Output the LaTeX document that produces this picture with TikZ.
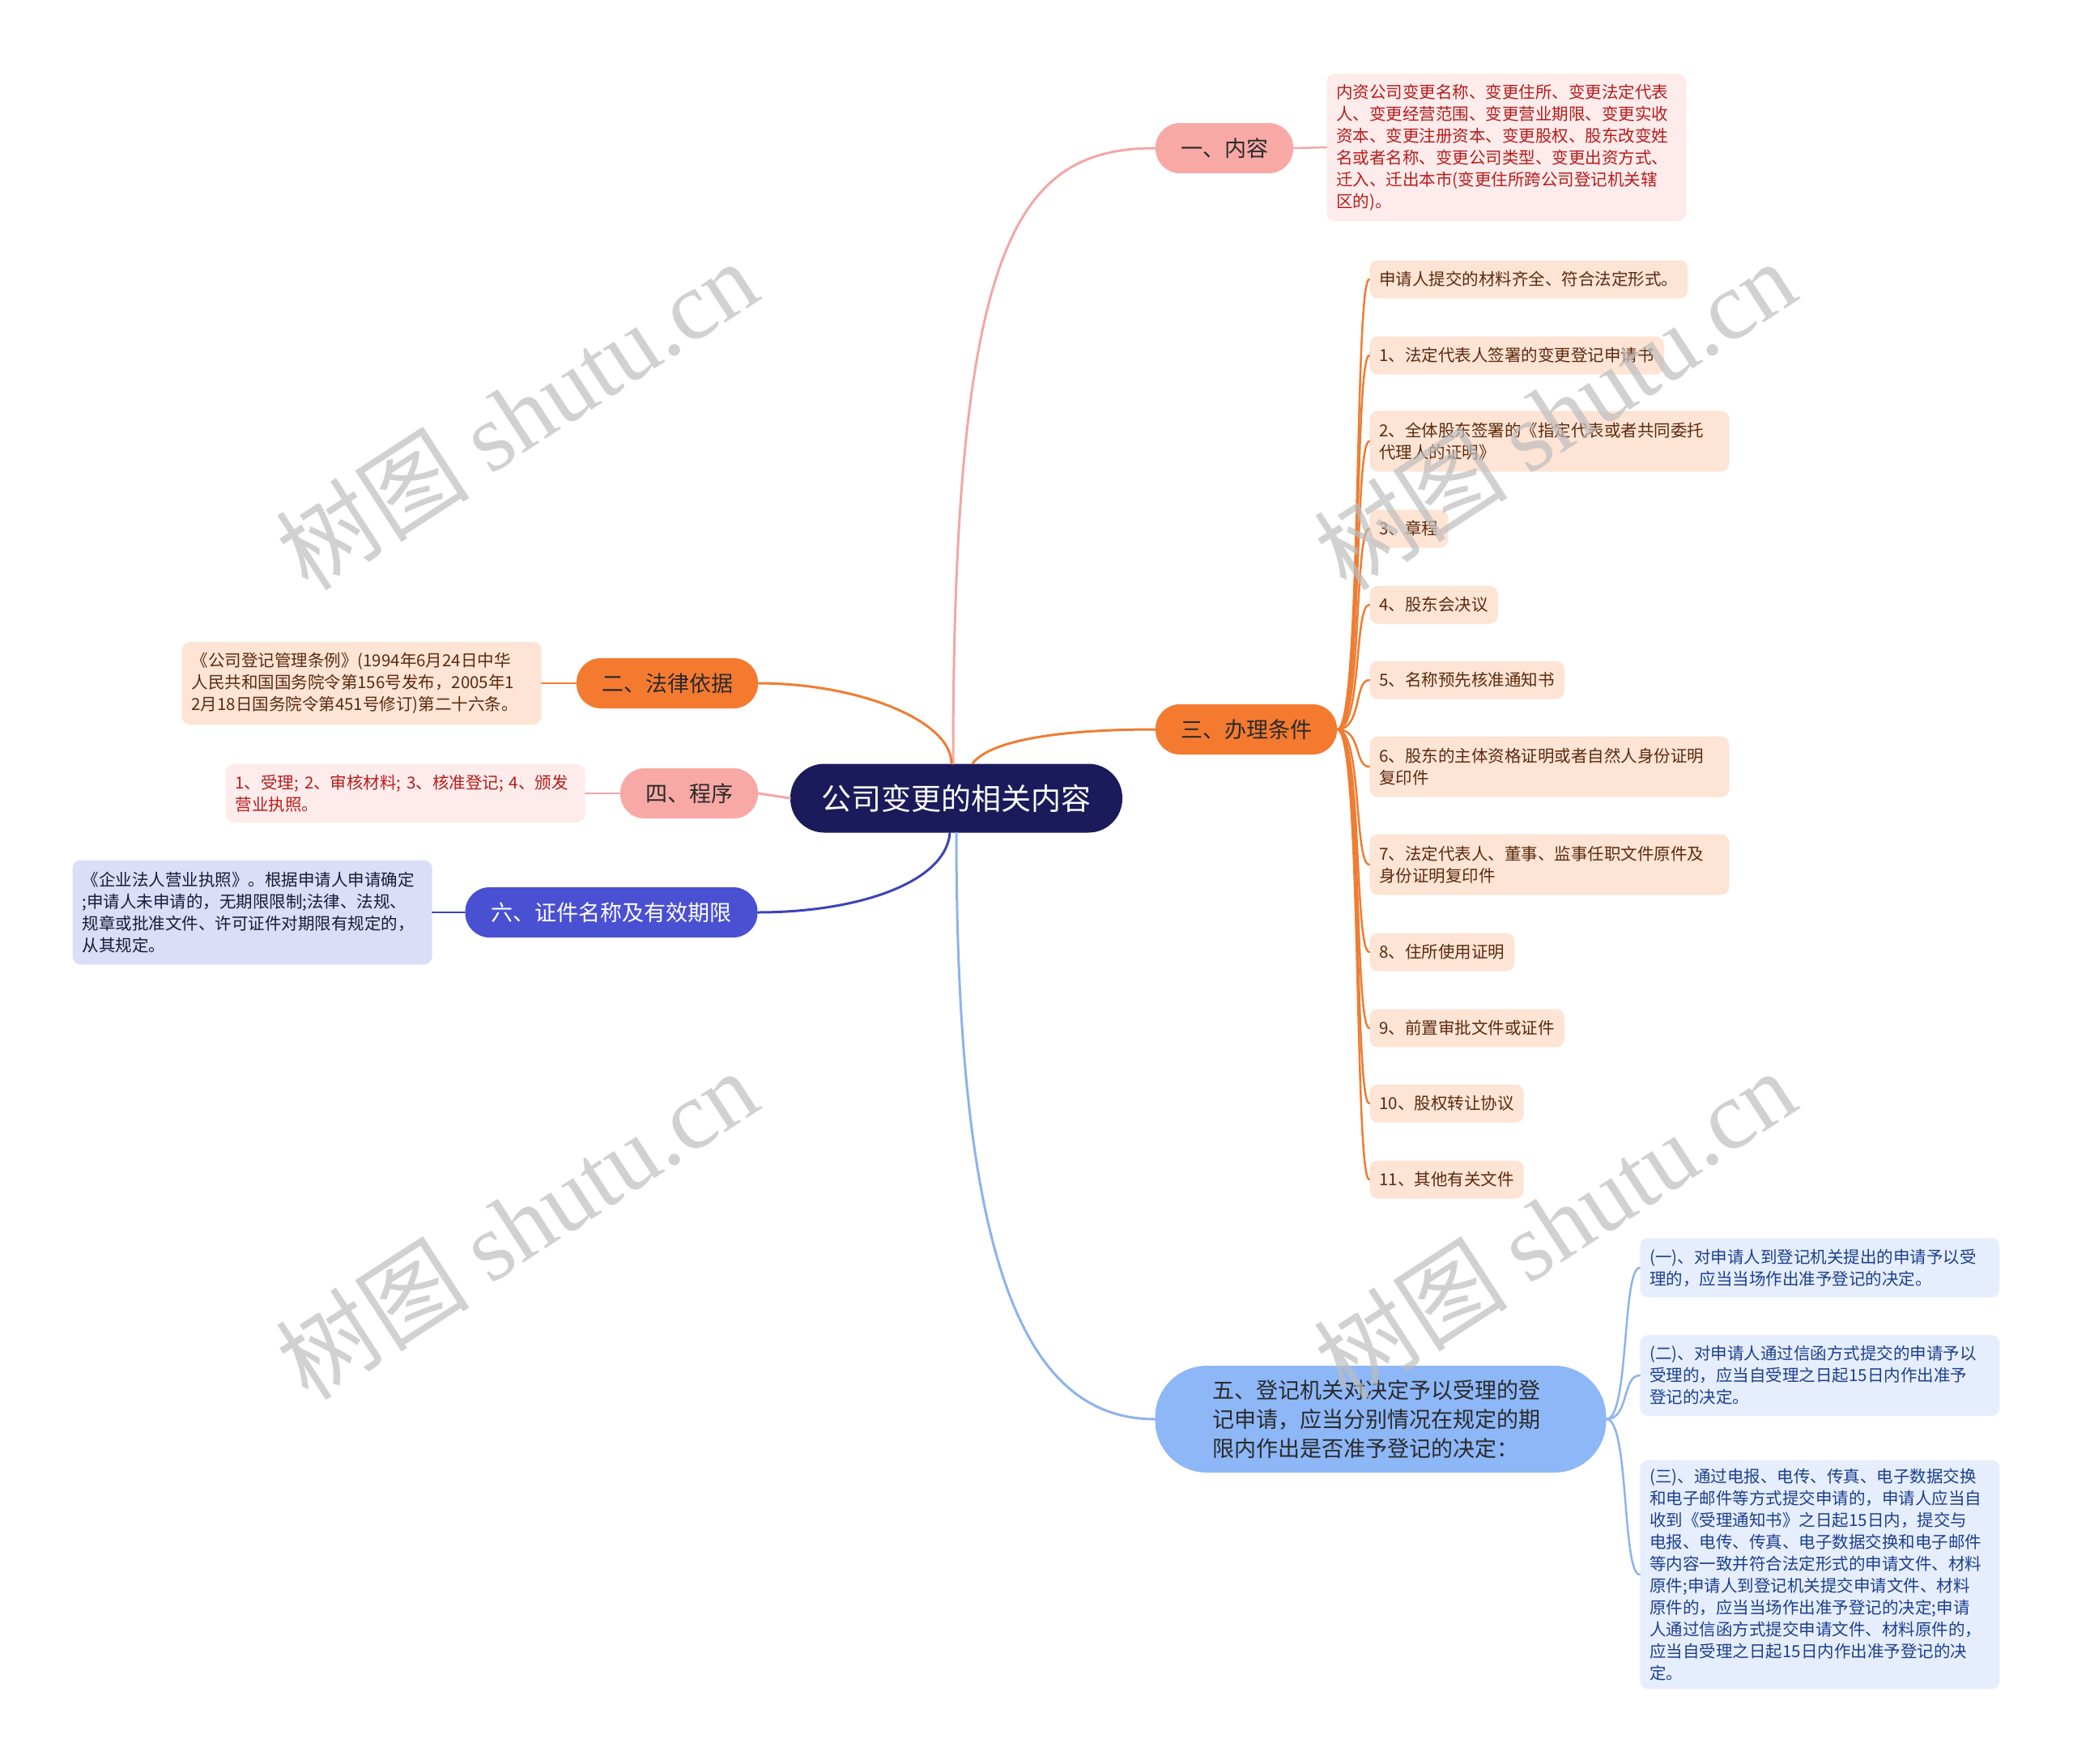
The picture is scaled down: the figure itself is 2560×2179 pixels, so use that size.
\documentclass[tikz,border=0pt]{standalone}
\usepackage{fontspec}
\setmainfont{Noto Sans CJK SC}
\newfontfamily\wmlatin{Liberation Serif}
\definecolor{rootc}{HTML}{1B1A5B}
\definecolor{pinkc}{HTML}{F8A9A6}
\definecolor{pinkln}{HTML}{F0A8A5}
\definecolor{pinkleafc}{HTML}{FDECEB}
\definecolor{pinktxt}{HTML}{B71C1C}
\definecolor{orc}{HTML}{F47A30}
\definecolor{orln}{HTML}{EE7D33}
\definecolor{orleafc}{HTML}{FDE4D5}
\definecolor{ortxt}{HTML}{5C2A0E}
\definecolor{bluec}{HTML}{4A50D2}
\definecolor{blueln}{HTML}{3C44B5}
\definecolor{lavleafc}{HTML}{DCDDF7}
\definecolor{lavtxt}{HTML}{1A1A3A}
\definecolor{lbc}{HTML}{8DB7F7}
\definecolor{lbln}{HTML}{8DB3EC}
\definecolor{lbleafc}{HTML}{E6EEFD}
\definecolor{lbtxt}{HTML}{1B3F8F}
\definecolor{darktxt}{HTML}{2A2A2A}
\definecolor{wmc}{HTML}{BDBDBD}
\begin{document}
\begin{tikzpicture}[x=0.5pt,y=-0.5pt,
  rootbox/.style={fill=rootc, text=white, rounded corners=21pt, minimum width=205pt, minimum height=42.5pt, inner sep=0pt, font=\fontsize{18.5pt}{22pt}\selectfont},
  brbox/.style={rounded corners=15pt, minimum height=31pt, inner sep=0pt, text=darktxt, font=\fontsize{13.5pt}{18pt}\selectfont},
  leafbox/.style={rounded corners=5pt, inner xsep=6pt, inner ysep=0pt, align=left, font=\fontsize{10.25pt}{13.5pt}\selectfont},
  widebox/.style={text width=210pt},
  oleaf/.style={leafbox, fill=orleafc, text=ortxt, anchor=west},
  conn/.style={line width=1.5pt, line cap=round},
  sconn/.style={line width=1.25pt, line cap=round},
  wm/.style={rotate=33, text=wmc, text opacity=0.7, font=\fontsize{60pt}{64pt}\selectfont}
]
\useasboundingbox (0,0) rectangle (2560,2179);

% root
\node[rootbox] (root) at (1181,986) {公司变更的相关内容};

% branches
\node[brbox, fill=pinkc, minimum width=85pt] (b1) at (1512,183) {一、内容};
\node[brbox, fill=orc, minimum width=112pt] (b2) at (824,844) {二、法律依据};
\node[brbox, fill=orc, minimum width=112pt] (b3) at (1539,901) {三、办理条件};
\node[brbox, fill=pinkc, minimum width=85pt] (b4) at (851,980) {四、程序};
\node[brbox, fill=lbc, minimum width=278.5pt, minimum height=66pt, rounded corners=32pt, text width=208pt, align=left, font=\fontsize{13.5pt}{18pt}\selectfont] (b5) at (1705,1753) {五、登记机关对决定予以受理的登\\记申请，应当分别情况在规定的期\\限内作出是否准予登记的决定：};
\node[brbox, fill=bluec, text=white, minimum width=180.5pt] (b6) at (755,1127) {六、证件名称及有效期限};

% main connectors
\draw[conn, pinkln] ([xshift=-2pt]root.north) .. controls (1177,300) and (1255,183) .. (b1.west);
\draw[conn, orln] ([xshift=-3pt]root.north) .. controls (1175,890) and (1060,844) .. (b2.east);
\draw[conn, orln] ([xshift=10pt]root.north) .. controls (1225,912) and (1320,901) .. (b3.west);
\draw[conn, pinkln] (root.west) -- (b4.east);
\draw[conn, lbln] (root.south) .. controls (1181,1560) and (1265,1753) .. (b5.west);
\draw[conn, blueln] ([xshift=-4pt]root.south) .. controls (1168,1090) and (1060,1127) .. (b6.east);

% leaf of 一
\node[leafbox, widebox, fill=pinkleafc, text=pinktxt, anchor=west, minimum height=91pt] (l1) at (1638,182) {内资公司变更名称、变更住所、变更法定代表\\人、变更经营范围、变更营业期限、变更实收\\资本、变更注册资本、变更股权、股东改变姓\\名或者名称、变更公司类型、变更出资方式、\\迁入、迁出本市(变更住所跨公司登记机关辖\\区的)。};
\draw[sconn, pinkln] (b1.east) -- (l1.west);

% leaf of 二
\node[leafbox, widebox, fill=orleafc, text=ortxt, anchor=east, minimum height=51pt] (l2) at (669,844) {《公司登记管理条例》(1994年6月24日中华\\人民共和国国务院令第156号发布，2005年1\\2月18日国务院令第451号修订)第二十六条。};
\draw[sconn, orln] (b2.west) -- (l2.east);

% leaf of 四
\node[leafbox, widebox, fill=pinkleafc, text=pinktxt, anchor=east, minimum height=36pt] (l4) at (723,980) {1、受理; 2、审核材料; 3、核准登记; 4、颁发\\营业执照。};
\draw[sconn, pinkln] (b4.west) -- (l4.east);

% leaf of 六
\node[leafbox, widebox, fill=lavleafc, text=lavtxt, anchor=east, minimum height=64.5pt] (l6) at (534,1127) {《企业法人营业执照》。根据申请人申请确定\\;申请人未申请的，无期限限制;法律、法规、\\规章或批准文件、许可证件对期限有规定的，\\从其规定。};
\draw[sconn, blueln] (b6.west) -- (l6.east);

% leaves of 三
\node[oleaf, minimum height=23.5pt] (c0) at (1691,345) {申请人提交的材料齐全、符合法定形式。};
\node[oleaf, minimum height=23.5pt] (c1) at (1691,439) {1、法定代表人签署的变更登记申请书};
\node[oleaf, widebox, minimum height=37.5pt] (c2) at (1691,545) {2、全体股东签署的《指定代表或者共同委托\\代理人的证明》};
\node[oleaf, minimum height=23.5pt] (c3) at (1691,653) {3、章程};
\node[oleaf, minimum height=23.5pt] (c4) at (1691,747) {4、股东会决议};
\node[oleaf, minimum height=23.5pt] (c5) at (1691,840) {5、名称预先核准通知书};
\node[oleaf, widebox, minimum height=37.5pt] (c6) at (1691,947) {6、股东的主体资格证明或者自然人身份证明\\复印件};
\node[oleaf, widebox, minimum height=37.5pt] (c7) at (1691,1068) {7、法定代表人、董事、监事任职文件原件及\\身份证明复印件};
\node[oleaf, minimum height=23.5pt] (c8) at (1691,1176) {8、住所使用证明};
\node[oleaf, minimum height=23.5pt] (c9) at (1691,1270) {9、前置审批文件或证件};
\node[oleaf, minimum height=23.5pt] (c10) at (1691,1363) {10、股权转让协议};
\node[oleaf, minimum height=23.5pt] (c11) at (1691,1457) {11、其他有关文件};
\foreach \i/\yy in {0/345,1/439,2/545,3/653,4/747,5/840,6/947,7/1068,8/1176,9/1270,10/1363,11/1457}
  \draw[sconn, orln] (b3.east) .. controls (1682,901) and (1672,\yy) .. (c\i.west);

% leaves of 五
\node[leafbox, widebox, fill=lbleafc, text=lbtxt, anchor=west, minimum height=36.5pt] (f1) at (2025,1566) {(一)、对申请人到登记机关提出的申请予以受\\理的，应当当场作出准予登记的决定。};
\node[leafbox, widebox, fill=lbleafc, text=lbtxt, anchor=west, minimum height=50pt] (f2) at (2025,1699) {(二)、对申请人通过信函方式提交的申请予以\\受理的，应当自受理之日起15日内作出准予\\登记的决定。};
\node[leafbox, widebox, fill=lbleafc, text=lbtxt, anchor=west, minimum height=141.5pt] (f3) at (2025,1945) {(三)、通过电报、电传、传真、电子数据交换\\和电子邮件等方式提交申请的，申请人应当自\\收到《受理通知书》之日起15日内，提交与\\电报、电传、传真、电子数据交换和电子邮件\\等内容一致并符合法定形式的申请文件、材料\\原件;申请人到登记机关提交申请文件、材料\\原件的，应当当场作出准予登记的决定;申请\\人通过信函方式提交申请文件、材料原件的，\\应当自受理之日起15日内作出准予登记的决\\定。};
\foreach \i/\yy in {1/1566,2/1699,3/1945}
  \draw[sconn, lbln] (b5.east) .. controls (2012,1753) and (2003,\yy) .. (f\i.west);

% watermarks
\node[wm] (wm1) at (638,512) {树图 {\wmlatin shutu.cn}};
\node[wm] (wm2) at (1920,512) {树图 {\wmlatin shutu.cn}};
\node[wm] (wm3) at (638,1512) {树图 {\wmlatin shutu.cn}};
\node[wm] (wm4) at (1920,1512) {树图 {\wmlatin shutu.cn}};
\end{tikzpicture}
\end{document}
